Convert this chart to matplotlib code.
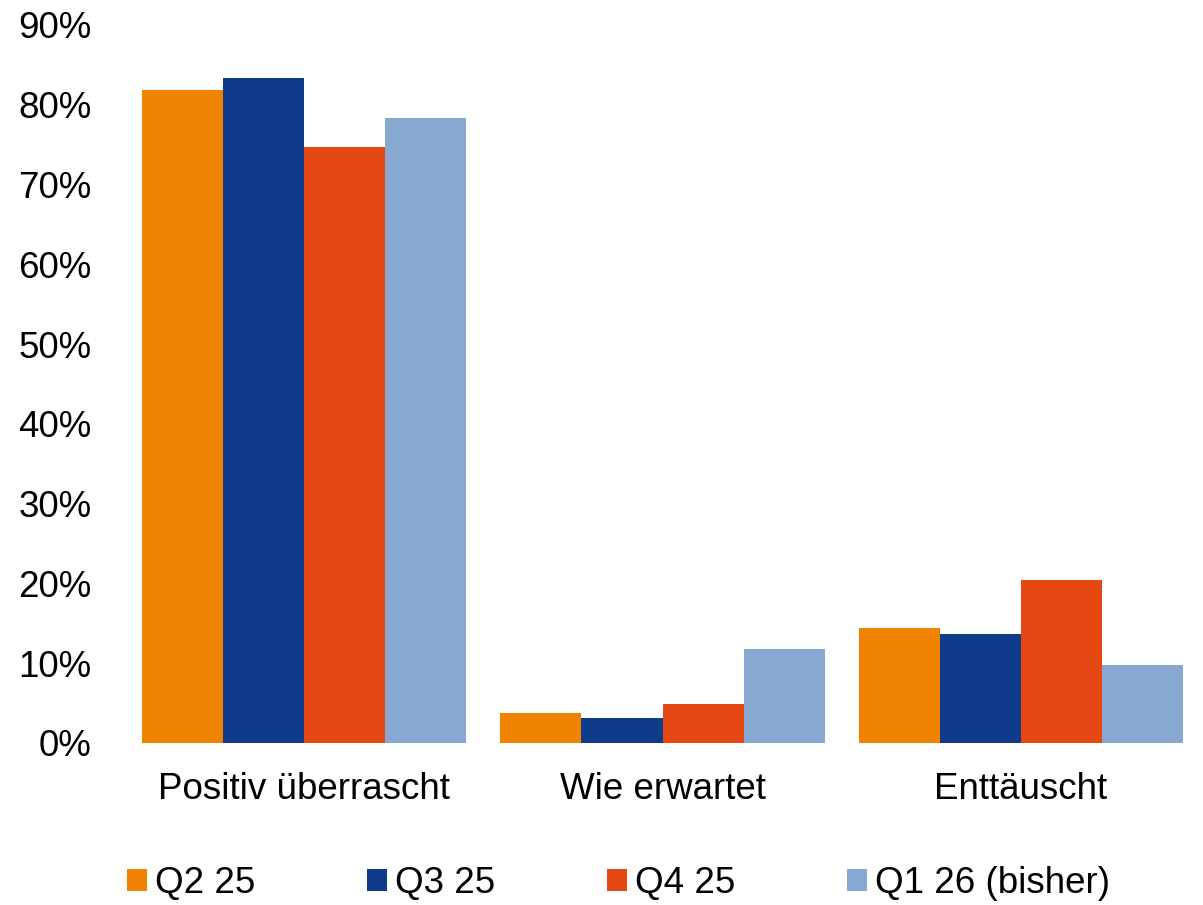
import numpy as np
import matplotlib.pyplot as plt
from matplotlib.ticker import PercentFormatter

plt.rcParams['font.family'] = ['Liberation Sans', 'DejaVu Sans']

categories = ['Positiv überrascht', 'Wie erwartet', 'Enttäuscht']
series = ['Q2 25', 'Q3 25', 'Q4 25', 'Q1 26 (bisher)']
values = [
    [81.8, 3.8, 14.4],
    [83.3, 3.1, 13.7],
    [74.7, 4.9, 20.4],
    [78.4, 11.8, 9.8],
]
colors = ['#F08300', '#0F3C8A', '#E64814', '#87A8D0']

fig = plt.figure(figsize=(12.03, 9.05), dpi=100)
ax = fig.add_axes([125 / 1203, 1 - 743 / 905, 1075 / 1203, (743 - 25) / 905])

x = np.arange(len(categories))
w = 0.2265
for i, (s, v, c) in enumerate(zip(series, values, colors)):
    ax.bar(x + (i - 1.5) * w, v, width=w, color=c, label=s, linewidth=0)

ax.set_xlim(-0.5, 2.5)
ax.set_ylim(0, 90)
ax.set_yticks(np.arange(0, 91, 10))
ax.yaxis.set_major_formatter(PercentFormatter(decimals=0))
ax.set_xticks(x)
ax.set_xticklabels(categories)
for s in ax.spines.values():
    s.set_visible(False)
ax.tick_params(length=0, labelsize=26.5, colors='black')
ax.tick_params(axis='y', pad=24)
ax.tick_params(axis='x', pad=21)

handles, labels = ax.get_legend_handles_labels()
leg = fig.legend(handles, labels, loc='center', bbox_to_anchor=(0.514, 0.024), ncol=4,
                 frameon=False, handlelength=0.55, handleheight=0.55, handletextpad=0.2,
                 columnspacing=3.05, prop={'size': 26.5})

fig.savefig('out.png', dpi=100)
